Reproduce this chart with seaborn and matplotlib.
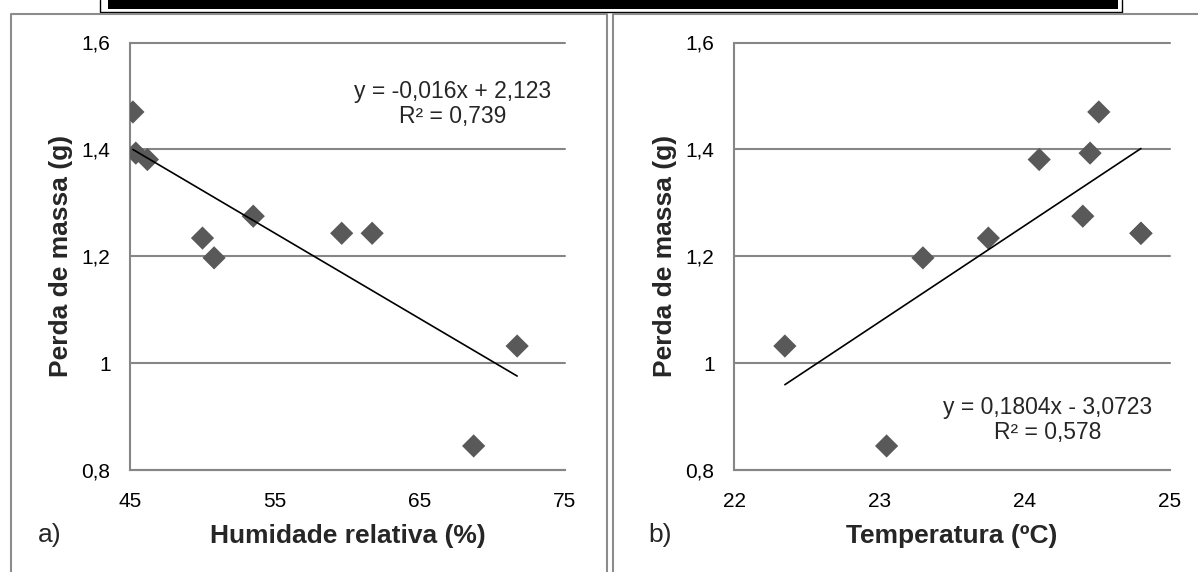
import numpy as np
import pandas as pd
import matplotlib.pyplot as plt
import seaborn as sns
from matplotlib.patches import Rectangle
from matplotlib.lines import Line2D

# -- values (same samples in both)
humidade = [45.2, 45.4, 46.2, 53.5, 50.0, 50.8, 59.6, 61.7, 71.7, 68.7]
temperatura = [24.51, 24.45, 24.10, 24.40, 23.75, 23.30, 24.8, 24.8, 22.35, 23.05]
perda_massa = [1.47, 1.393, 1.381, 1.275, 1.234, 1.197, 1.243, 1.243, 1.032, 0.845]

# -- linear trendlines as printed on the chart
hum_fit = (-0.016, 2.123)
temp_fit = (0.1804, -3.0723)
hum_eq = 'y = -0,016x + 2,123\nR² = 0,739'
temp_eq = 'y = 0,1804x - 3,0723\nR² = 0,578'

hum_ticks = [45, 55, 65, 75]
temp_ticks = [22, 23, 24, 25]
y_ticks = [0.8, 1.0, 1.2, 1.4, 1.6]
y_ticklabels = ['0,8', '1', '1,2', '1,4', '1,6']

df = pd.DataFrame({'hum': humidade, 'temp': temperatura, 'massa': perda_massa})

sns.set_style('white')
plt.rcParams['font.family'] = ['Liberation Sans', 'DejaVu Sans']

GREY = '#868686'
W, H = 1198, 572
fig = plt.figure(figsize=(W / 100, H / 100), dpi=100)


def line_px(xs, ys, **kw):
    # helper: line in pixel coords of the figure
    fig.add_artist(Line2D([x / W for x in xs], [1 - y / H for y in ys], **kw))


# -- frame bits around the two panels
fig.add_artist(Rectangle((108 / W, 1 - 9 / H), (1118 - 108) / W, 9 / H, color='black', lw=0))
line_px([100, 100, 1122, 1122], [0, 12, 12, 0], color='black', lw=1)
line_px([11, 11, 607, 607], [572, 14, 14, 572], color='#8c8c8c', lw=1.5)
line_px([613, 613, 1198], [572, 14, 14], color='#8c8c8c', lw=1.5)


def panel(rect, xcol, fit, eq, eqpos, xticks, xlabel, tag, tagx):
    ax = fig.add_axes(rect)
    sns.scatterplot(data=df, x=xcol, y='massa', marker='D', s=140, color='#595959',
                    edgecolor='none', ax=ax, zorder=3)
    xs = np.array([df[xcol].min(), df[xcol].max()])
    sns.lineplot(x=xs, y=fit[0] * xs + fit[1], color='black', lw=1.2, ax=ax, zorder=4)

    ax.set_xlim(xticks[0], xticks[-1])
    ax.set_ylim(0.8, 1.6)
    ax.set_xticks(xticks)
    ax.set_yticks(y_ticks)
    ax.set_yticklabels(y_ticklabels)
    ax.yaxis.grid(True, color=GREY, lw=1.5)
    for gl in ax.get_ygridlines():
        gl.set_clip_on(False)
    for s in ['top', 'right']:
        ax.spines[s].set_visible(False)
    for s in ['left', 'bottom']:
        ax.spines[s].set_color(GREY)
        ax.spines[s].set_linewidth(1.5)
    ax.tick_params(length=0, labelsize=15, colors='black')
    ax.tick_params(axis='x', pad=16)
    ax.tick_params(axis='y', pad=14)

    ax.set_xlabel(xlabel, fontsize=19, fontweight='bold', labelpad=9)
    ax.set_ylabel('Perda de massa (g)', fontsize=19, fontweight='bold', labelpad=6)
    ax.text(eqpos[0], eqpos[1], eq, transform=ax.transAxes, ha='center', va='center',
            fontsize=16.5, multialignment='center', linespacing=1.1)
    fig.text(tagx / W, 1 - 535 / H, tag, fontsize=19, ha='center', va='center')
    return ax


panel([130 / W, 1 - 470 / H, 435 / W, 427.5 / H], 'hum', hum_fit, hum_eq, (0.7425, 0.856),
      hum_ticks, 'Humidade relativa (%)', 'a)', 50)
panel([734 / W, 1 - 470 / H, 436 / W, 427.5 / H], 'temp', temp_fit, temp_eq, (0.72, 0.117),
      temp_ticks, 'Temperatura (ºC)', 'b)', 660)

fig.savefig('out.png', dpi=100)
